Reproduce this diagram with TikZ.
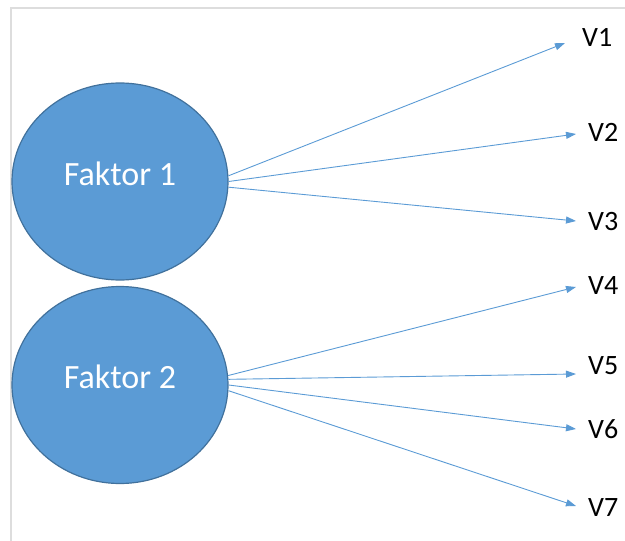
\documentclass[tikz,border=0pt]{standalone}
\usepackage{fontspec}
\setmainfont{Carlito}
\usetikzlibrary{arrows.meta,shapes.geometric}

\definecolor{faktorblue}{HTML}{5B9BD5}
\definecolor{faktorline}{HTML}{41719C}
\definecolor{framegray}{HTML}{DDDDDD}

\tikzset{
    faktor/.style={ellipse,draw=faktorline,fill=faktorblue,line width=1.2pt,
        minimum width=216pt,minimum height=197pt,inner sep=0pt},
    faktortext/.style={text=white,font=\fontsize{34}{40}\selectfont},
    vlabel/.style={anchor=west,inner sep=0pt,font=\fontsize{28}{32}\selectfont},
    link/.style={draw=faktorblue,line width=0.9pt,-{Triangle[length=10pt,width=7pt]}}
}

\begin{document}
\begin{tikzpicture}[x=1pt,y=-1pt]
                    \useasboundingbox (0,0) rectangle (625,541);
                    \draw[framegray,line width=2pt] (11,541) -- (11,8) -- (625,8);

                    \node[faktor] (f1) at (120,181.5) {};
                    \node[faktor] (f2) at (120,385) {};
                    \node[faktortext] (f1text) at ([yshift=8pt]f1.center) {Faktor 1};
                    \node[faktortext] (f2text) at ([yshift=8pt]f2.center) {Faktor 2};

                    \foreach \v/\tx/\ty/\lx/\ly/\src in {1/565/43/582/37/f1.3,
                            2/576/134/588/132/f1.0,
                            3/576/221/588/222/f1.-3,
                            4/576/287/588/286/f2.5.5,
                            5/576/374/588/366/f2.3,
                            6/576/429/588/429/f2.0,
                            7/576/506/588/508/f2.-3}{
                            \coordinate (t\v) at (\tx,\ty);
                            \node[vlabel] (v\v) at (\lx,\ly) {V\v};
                            \draw[link] (\src) -- (t\v);
                        }
                \end{tikzpicture}
\end{document}
